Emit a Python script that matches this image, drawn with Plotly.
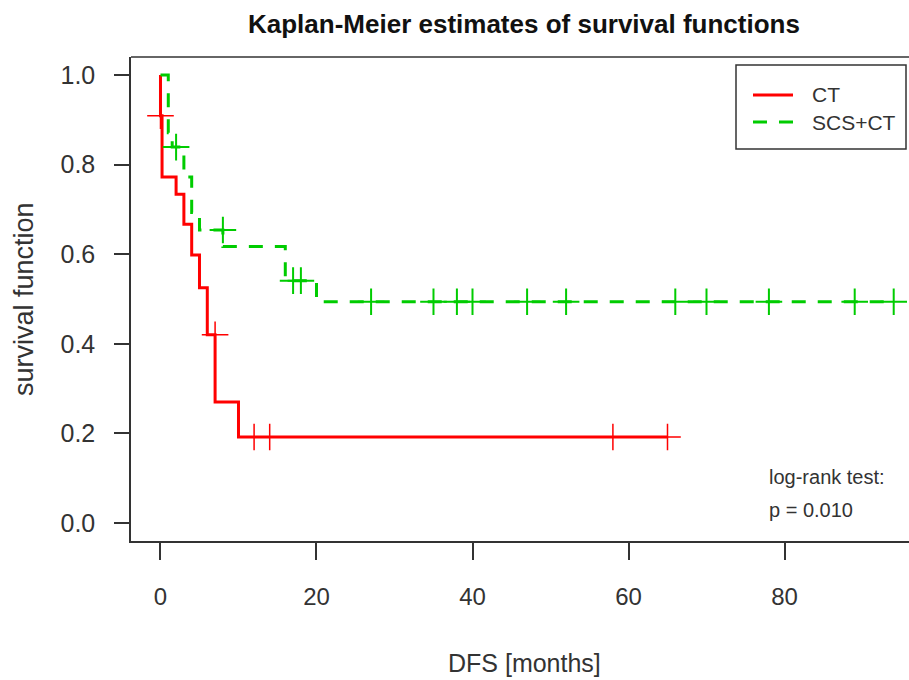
import plotly.graph_objects as go

# ---- data ----
ct_time = [0, 0.0, 0.2, 2, 3, 4, 5, 6, 7, 10, 65]
ct_surv = [1.0, 0.909, 0.772, 0.734, 0.667, 0.598, 0.525, 0.420, 0.270, 0.192, 0.192]
ct_cens_time = [0, 7, 12, 14, 58, 65]
ct_cens_surv = [0.909, 0.420, 0.192, 0.192, 0.192, 0.192]

scs_time = [0, 1, 1.5, 3, 4, 5, 8, 16, 20, 94]
scs_surv = [1.0, 0.871, 0.839, 0.772, 0.693, 0.654, 0.617, 0.541, 0.494, 0.494]
scs_cens_time = [2, 8, 17, 18, 27, 35, 38, 40, 47, 52, 66, 70, 78, 89, 94]
scs_cens_surv = [0.839, 0.654, 0.541, 0.541, 0.494, 0.494, 0.494, 0.494, 0.494,
                 0.494, 0.494, 0.494, 0.494, 0.494, 0.494]

x_ticks = [0, 20, 40, 60, 80]
y_ticks = [0.0, 0.2, 0.4, 0.6, 0.8, 1.0]
group_names = ["CT", "SCS+CT"]

RED = "#ff0000"
GREEN = "#00cc00"
AX = "#333333"
FONT = "Liberation Sans, Arial, sans-serif"

fig = go.Figure()
fig.add_trace(go.Scatter(x=ct_time, y=ct_surv, mode="lines", line_shape="hv",
                         line=dict(color=RED, width=3), showlegend=False))
fig.add_trace(go.Scatter(x=scs_time, y=scs_surv, mode="lines", line_shape="hv",
                         line=dict(color=GREEN, width=3, dash="14px,12px"), showlegend=False))
fig.add_trace(go.Scatter(x=ct_cens_time, y=ct_cens_surv, mode="markers",
                         marker=dict(symbol="cross-thin", size=19,
                                     line=dict(color=RED, width=1.5)),
                         showlegend=False))
fig.add_trace(go.Scatter(x=scs_cens_time, y=scs_cens_surv, mode="markers",
                         marker=dict(symbol="cross-thin", size=19,
                                     line=dict(color=GREEN, width=2)),
                         showlegend=False))

W, H = 909, 680
L, R, T, B = 131, 0, 57, 139
pw, ph = W - L - R, H - T - B


def px(xp):
    return (xp - L) / pw


def py(yp):
    return (H - B - yp) / ph


shapes = [
    dict(type="line", xref="paper", yref="paper", x0=0, x1=1, y0=1, y1=1,
         line=dict(color=AX, width=1.5)),
    # legend box
    dict(type="rect", xref="paper", yref="paper", x0=px(736), x1=px(906),
         y0=py(149), y1=py(65), line=dict(color=AX, width=1.5), fillcolor="white"),
    dict(type="line", xref="paper", yref="paper", x0=px(753), x1=px(793),
         y0=py(95), y1=py(95), line=dict(color=RED, width=3)),
    dict(type="line", xref="paper", yref="paper", x0=px(753), x1=px(793),
         y0=py(122), y1=py(122), line=dict(color=GREEN, width=3, dash="14px,12px")),
]

annotations = [
    dict(text="<b>Kaplan-Meier estimates of survival functions</b>", xref="paper",
         yref="paper", x=px(524), y=py(24), xanchor="center", yanchor="middle",
         showarrow=False, font=dict(family=FONT, size=26, color="#111")),
    dict(text="DFS [months]", xref="paper", yref="paper", x=px(524), y=py(663),
         xanchor="center", yanchor="middle", showarrow=False,
         font=dict(family=FONT, size=25, color="#333")),
    dict(text="survival function", xref="paper", yref="paper", x=px(24), y=py(299),
         xanchor="center", yanchor="middle", textangle=-90, showarrow=False,
         font=dict(family=FONT, size=27, color="#333")),
    dict(text=group_names[0], xref="paper", yref="paper", x=px(810), y=py(95),
         xanchor="left", yanchor="middle", showarrow=False,
         font=dict(family=FONT, size=21, color="#333")),
    dict(text=group_names[1], xref="paper", yref="paper", x=px(810), y=py(122),
         xanchor="left", yanchor="middle", showarrow=False,
         font=dict(family=FONT, size=21, color="#333")),
    dict(text="log-rank test:", xref="paper", yref="paper", x=px(767), y=py(477),
         xanchor="left", yanchor="middle", showarrow=False,
         font=dict(family=FONT, size=20, color="#333")),
    dict(text="p = 0.010", xref="paper", yref="paper", x=px(767), y=py(510),
         xanchor="left", yanchor="middle", showarrow=False,
         font=dict(family=FONT, size=20, color="#333")),
]

fig.update_layout(
    width=W, height=H, margin=dict(l=L, r=R, t=T, b=B, pad=0),
    paper_bgcolor="white", plot_bgcolor="white",
    shapes=shapes, annotations=annotations,
    xaxis=dict(range=[-3.78, 95.96], tickvals=x_ticks, showgrid=False, zeroline=False,
               showline=True, linecolor=AX, linewidth=1.5, ticks="outside", ticklen=17,
               tickwidth=1.5, tickcolor=AX, ticklabelstandoff=16,
               tickfont=dict(family=FONT, size=24, color="#333")),
    yaxis=dict(range=[-0.04, 1.04], tickvals=y_ticks, tickformat=".1f", showgrid=False,
               zeroline=False, showline=True, linecolor=AX, linewidth=1.5,
               ticks="outside", ticklen=15, tickwidth=1.5, tickcolor=AX,
               ticklabelstandoff=14,
               tickfont=dict(family=FONT, size=25, color="#333")),
)

fig.write_html("out.html")
